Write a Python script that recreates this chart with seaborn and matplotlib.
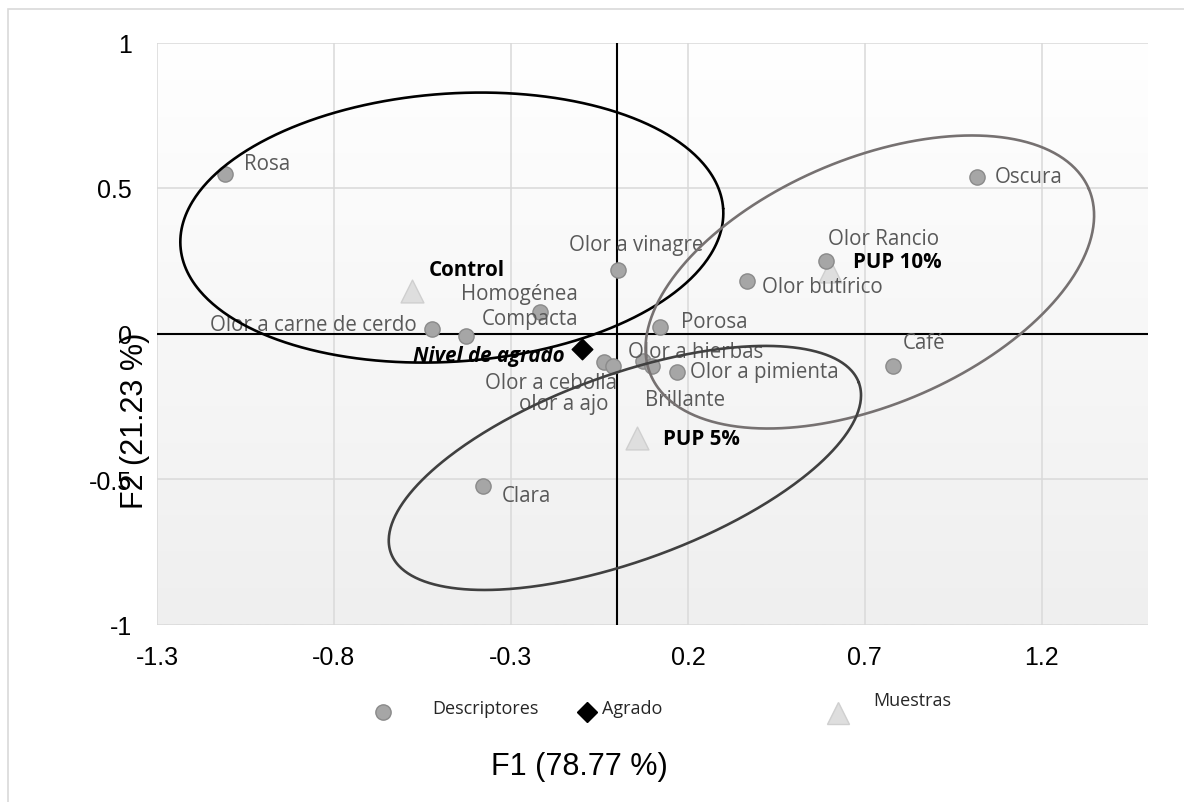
import numpy as np
import pandas as pd
import matplotlib
matplotlib.use("Agg")
import matplotlib.pyplot as plt
import seaborn as sns
from matplotlib.colors import LinearSegmentedColormap
from matplotlib.lines import Line2D
from matplotlib.patches import Rectangle

# ---- Data (biplot coordinates on F1 / F2) ----
descriptores = ["Rosa", "Oscura", "Olor Rancio", "Olor butírico", "Olor a vinagre",
                "Homogénea", "Compacta", "Olor a carne de cerdo", "Porosa",
                "Olor a cebolla", "olor a ajo", "Olor a hierbas", "Brillante",
                "Olor a pimienta", "Café", "Clara"]
desc_f1 = [-1.108, 1.016, 0.590, 0.367, 0.002, -0.427, -0.218, -0.523, 0.121,
           -0.037, -0.012, 0.073, 0.098, 0.169, 0.779, -0.379]
desc_f2 = [0.548, 0.538, 0.249, 0.180, 0.218, -0.009, 0.074, 0.015, 0.022,
           -0.098, -0.112, -0.095, -0.112, -0.132, -0.112, -0.524]

muestras = ["Control", "PUP 10%", "PUP 5%"]
mues_f1 = [-0.580, 0.601, 0.056]
mues_f2 = [0.146, 0.215, -0.359]

agrado = ["Nivel de agrado"]
agr_f1 = [-0.099]
agr_f2 = [-0.053]

x_ticks = [-1.3, -0.8, -0.3, 0.2, 0.7, 1.2]
x_ticklabels = ["-1.3", "-0.8", "-0.3", "0.2", "0.7", "1.2"]
y_ticks = [-1, -0.5, 0, 0.5, 1]
y_ticklabels = ["-1", "-0.5", "0", "0.5", "1"]

# ---- Label placement (offsets in pixels from each marker, alignment) ----
desc_label_pos = {
    "Rosa": (19, 11, "left"),
    "Oscura": (18, 0, "left"),
    "Olor Rancio": (2, 23, "left"),
    "Olor butírico": (15, -5, "left"),
    "Olor a vinagre": (18, 26, "center"),
    "Homogénea": (112, 43, "right"),
    "Compacta": (38, -7, "right"),
    "Olor a carne de cerdo": (-15, 5, "right"),
    "Porosa": (21, 6, "left"),
    "Olor a cebolla": (-53, -20, "center"),
    "olor a ajo": (-49, -37, "center"),
    "Olor a hierbas": (53, 10, "center"),
    "Brillante": (33, -33, "center"),
    "Olor a pimienta": (13, 0, "left"),
    "Café": (31, 24, "center"),
    "Clara": (19, -10, "left"),
}
mues_label_pos = {
    "Control": (17, 22, "left"),
    "PUP 10%": (23, 9, "left"),
    "PUP 5%": (26, -1, "left"),
}

# ---- Groupings (center in data units, semi-axes in px, angle in deg) ----
grupos = [
    dict(center=(-0.467, 0.364), a=272, b=134, ang=4, color="#000000"),
    dict(center=(0.714, 0.177), a=238, b=123, ang=23, color="#767171"),
    dict(center=(0.022, -0.462), a=249, b=93, ang=20, color="#404040"),
]

sns.set_theme(style="white")
plt.rcParams["font.family"] = ["Liberation Sans", "DejaVu Sans"]
plt.rcParams["axes.unicode_minus"] = False

W, H = 1184, 803
fig = plt.figure(figsize=(W / 100, H / 100), dpi=100)
fig.patch.set_facecolor("white")

left, right, top, bottom = 157, 1148, 43.5, 625.5
ax = fig.add_axes([left / W, 1 - bottom / H, (right - left) / W, (bottom - top) / H])

# soft vertical gradient in the plot area
grad = np.linspace(1, 0, 256).reshape(-1, 1)
cmap_bg = LinearSegmentedColormap.from_list("bg", ["#efefef", "#ffffff"])
ax.imshow(grad, cmap=cmap_bg, extent=[0, 1, 0, 1], transform=ax.transAxes,
          aspect="auto", zorder=0, interpolation="bilinear")

df_desc = pd.DataFrame({"F1": desc_f1, "F2": desc_f2, "nombre": descriptores})
df_mues = pd.DataFrame({"F1": mues_f1, "F2": mues_f2, "nombre": muestras})
df_agr = pd.DataFrame({"F1": agr_f1, "F2": agr_f2, "nombre": agrado})

sns.scatterplot(data=df_mues, x="F1", y="F2", ax=ax, marker="^", s=270,
                color="#dedede", edgecolor="#cfcfcf", linewidth=1, zorder=3)
sns.scatterplot(data=df_desc, x="F1", y="F2", ax=ax, marker="o", s=120,
                color="#a6a6a6", edgecolor="#8a8a8a", linewidth=1, zorder=4)
sns.scatterplot(data=df_agr, x="F1", y="F2", ax=ax, marker="D", s=110,
                color="#000000", edgecolor="#000000", linewidth=1, zorder=4)

ax.set_xlim(-1.3, 1.5)
ax.set_ylim(-1, 1)
ax.set_xticks(x_ticks)
ax.set_xticklabels(x_ticklabels)
ax.set_yticks(y_ticks)
ax.set_yticklabels(y_ticklabels)
ax.grid(True, color="#d9d9d9", lw=1.1)
ax.set_axisbelow(True)
for sp in ax.spines.values():
    sp.set_visible(False)
ax.tick_params(axis="x", length=0, pad=15, labelsize=18, labelcolor="#000000")
ax.tick_params(axis="y", length=0, pad=18, labelsize=18, labelcolor="#000000")

# axis lines through the origin
ax.axhline(0, color="#000000", lw=1.5, zorder=2)
ax.axvline(0, color="#000000", lw=1.5, zorder=2)

label_font = ["Open Sans", "DejaVu Sans"]
for name, x, y in zip(descriptores, desc_f1, desc_f2):
    dx, dy, ha = desc_label_pos[name]
    ax.annotate(name, (x, y), xytext=(dx, dy), textcoords="offset pixels",
                ha=ha, va="center", fontsize=14.8, color="#595959",
                family=label_font, zorder=5)
for name, x, y in zip(muestras, mues_f1, mues_f2):
    dx, dy, ha = mues_label_pos[name]
    ax.annotate(name, (x, y), xytext=(dx, dy), textcoords="offset pixels",
                ha=ha, va="center", fontsize=14.8, color="#000000",
                fontweight="bold", family=label_font, zorder=5)
ax.annotate(agrado[0], (agr_f1[0], agr_f2[0]), xytext=(-17, -7),
            textcoords="offset pixels", ha="right", va="center", fontsize=14.8,
            color="#000000", fontweight="bold", fontstyle="italic",
            family=label_font, zorder=5)

# grouping ellipses drawn in screen space so they keep their shape
fig.canvas.draw()
t = np.linspace(0, 2 * np.pi, 500)
for g in grupos:
    cx, cy = ax.transData.transform(g["center"])
    ph = np.deg2rad(g["ang"])
    dx = g["a"] * np.cos(t) * np.cos(ph) - g["b"] * np.sin(t) * np.sin(ph)
    dy = g["a"] * np.cos(t) * np.sin(ph) + g["b"] * np.sin(t) * np.cos(ph)
    pts = ax.transData.inverted().transform(np.column_stack([cx + dx, cy + dy]))
    ax.plot(pts[:, 0], pts[:, 1], color=g["color"], lw=1.9, zorder=6)

ax.set_xlabel("F1 (78.77 %)", fontsize=22, color="#000000")
ax.xaxis.label.set_va("center")
ax.xaxis.set_label_coords((579 - left) / (right - left), (bottom - 767) / (bottom - top))
ax.set_ylabel("F2 (21.23 %)", fontsize=22, color="#000000")
ax.yaxis.label.set_va("center")
ax.yaxis.set_label_coords((135 - left) / (right - left), (bottom - 421) / (bottom - top))

# legend row
def fig_xy(px, py):
    return px / W, 1 - py / H

legend_items = [
    ("o", 11, "#a6a6a6", "#8a8a8a", (383, 713), "Descriptores", (432, 709)),
    ("D", 10.5, "#000000", "#000000", (587, 713), "Agrado", (602, 709)),
    ("^", 16, "#dedede", "#cfcfcf", (838, 714), "Muestras", (873, 701)),
]
for mk, ms, fc, ec, mpos, text, tpos in legend_items:
    mx, my = fig_xy(*mpos)
    fig.add_artist(Line2D([mx], [my], marker=mk, markersize=ms, markerfacecolor=fc,
                          markeredgecolor=ec, linestyle="none",
                          transform=fig.transFigure))
    tx, ty = fig_xy(*tpos)
    fig.text(tx, ty, text, ha="left", va="center", fontsize=13, color="#262626",
             family=label_font)

# chart border
fig.add_artist(Rectangle((8 / W, -0.05), 1.2, 1 - 10 / H + 0.05, transform=fig.transFigure,
                         fill=False, edgecolor="#d9d9d9", lw=1.2))

fig.savefig("out.png", dpi=100)
